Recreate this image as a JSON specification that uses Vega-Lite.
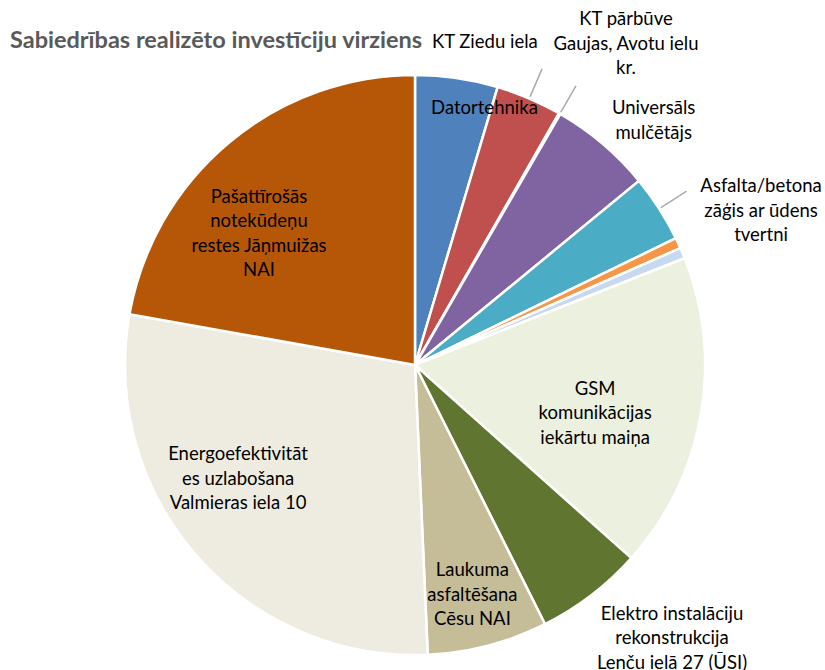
{
  "$schema": "https://vega.github.io/schema/vega-lite/v6.json",
  "autosize": "none",
  "width": 820,
  "height": 610,
  "padding": {"left": 5, "top": 60, "right": 0, "bottom": 0},
  "background": "white",
  "title": {
    "text": "Sabiedrības realizēto investīciju virziens",
    "anchor": "start",
    "frame": "group",
    "dx": 5,
    "offset": -42,
    "font": "Lato",
    "fontSize": 23.5,
    "fontWeight": "bold",
    "color": "#595959"
  },
  "data": {
    "values": [
      {"name": "Datortehnika", "value": 4.6},
      {"name": "KT Ziedu iela", "value": 3.67},
      {"name": "KT pārbūve\nGaujas, Avotu ielu\nkr.", "value": 0.08},
      {"name": "Universāls\nmulčētājs", "value": 5.7},
      {"name": "Asfalta/betona\nzāģis ar ūdens\ntvertni", "value": 3.75},
      {"name": "Cits 1", "value": 0.6},
      {"name": "Cits 2", "value": 0.6},
      {"name": "GSM\nkomunikācijas\niekārtu maiņa", "value": 17.6},
      {"name": "Elektro instalāciju\nrekonstrukcija\nLenču ielā 27 (ŪSI)", "value": 6.0},
      {"name": "Laukuma\nasfaltēšana\nCēsu NAI", "value": 6.7},
      {"name": "Energoefektivitāt\nes uzlabošana\nValmieras iela 10", "value": 28.5},
      {"name": "Pašattīrošās\nnotekūdeņu\nrestes Jāņmuižas\nNAI", "value": 22.2}
    ]
  },
  "transform": [
    {"window": [{"op": "sum", "field": "value", "as": "v1"}, {"op": "row_number", "as": "idx"}], "frame": [null, 0]},
    {"calculate": "datum.v1 - datum.value", "as": "v0"},
    {"calculate": "datum.v1 - datum.value / 2", "as": "mid"},
    {"calculate": "datum.mid + 0.03", "as": "midB"}
  ],
  "config": {
    "view": {"stroke": null},
    "text": {"font": "Lato", "fontSize": 18.5, "lineBreak": "\n", "lineHeight": 24.5, "color": "#000000"}
  },
  "layer": [
    {
      "mark": {"type": "arc", "outerRadius": 290, "stroke": "white", "strokeWidth": 2.5},
      "encoding": {
        "theta": {"field": "v0", "type": "quantitative", "stack": null, "scale": {"domain": [0, 100]}},
        "theta2": {"field": "v1"},
        "color": {
          "field": "name",
          "type": "nominal",
          "sort": null,
          "legend": null,
          "scale": {
            "domain": ["Datortehnika", "KT Ziedu iela", "KT pārbūve\nGaujas, Avotu ielu\nkr.", "Universāls\nmulčētājs", "Asfalta/betona\nzāģis ar ūdens\ntvertni", "Cits 1", "Cits 2", "GSM\nkomunikācijas\niekārtu maiņa", "Elektro instalāciju\nrekonstrukcija\nLenču ielā 27 (ŪSI)", "Laukuma\nasfaltēšana\nCēsu NAI", "Energoefektivitāt\nes uzlabošana\nValmieras iela 10", "Pašattīrošās\nnotekūdeņu\nrestes Jāņmuižas\nNAI"],
            "range": ["#4F81BD", "#C0504D", "#9BBB59", "#8064A2", "#4BACC6", "#F79646", "#C6D9F1", "#EBF1DE", "#5F7530", "#C4BD97", "#EEECE1", "#B65708"]
          }
        }
      }
    },
    {
      "transform": [{"filter": "datum.idx == 2 || datum.idx == 3 || datum.idx == 5"}],
      "mark": {"type": "arc", "radius": 322, "radius2": 292, "filled": false, "stroke": "#A6A6A6", "strokeWidth": 1},
      "encoding": {
        "theta": {"field": "mid", "type": "quantitative", "stack": null},
        "theta2": {"field": "midB"}
      }
    },
    {
      "transform": [{"filter": "datum.idx == 1"}],
      "mark": {"type": "text", "radius": 267, "dx": 31, "dy": 7},
      "encoding": {"theta": {"field": "mid", "type": "quantitative", "stack": null}, "text": {"field": "name"}}
    },
    {
      "transform": [{"filter": "datum.idx == 2"}],
      "mark": {"type": "text", "radius": 330, "dx": -60, "dy": -20},
      "encoding": {"theta": {"field": "mid", "type": "quantitative", "stack": null}, "text": {"field": "name"}}
    },
    {
      "transform": [{"filter": "datum.idx == 3"}],
      "mark": {"type": "text", "radius": 385, "dx": 19, "dy": -12},
      "encoding": {"theta": {"field": "mid", "type": "quantitative", "stack": null}, "text": {"field": "name"}}
    },
    {
      "transform": [{"filter": "datum.idx == 4"}],
      "mark": {"type": "text", "radius": 341, "dx": 18, "dy": 3},
      "encoding": {"theta": {"field": "mid", "type": "quantitative", "stack": null}, "text": {"field": "name"}}
    },
    {
      "transform": [{"filter": "datum.idx == 5"}],
      "mark": {"type": "text", "radius": 379, "dx": 27, "dy": 26},
      "encoding": {"theta": {"field": "mid", "type": "quantitative", "stack": null}, "text": {"field": "name"}}
    },
    {
      "transform": [{"filter": "datum.idx == 8"}],
      "mark": {"type": "text", "radius": 186, "dx": -3, "dy": -9},
      "encoding": {"theta": {"field": "mid", "type": "quantitative", "stack": null}, "text": {"field": "name"}}
    },
    {
      "transform": [{"filter": "datum.idx == 9"}],
      "mark": {"type": "text", "radius": 375, "dx": 29, "dy": -49},
      "encoding": {"theta": {"field": "mid", "type": "quantitative", "stack": null}, "text": {"field": "name"}}
    },
    {
      "transform": [{"filter": "datum.idx == 10"}],
      "mark": {"type": "text", "radius": 236, "dx": -2, "dy": -23},
      "encoding": {"theta": {"field": "mid", "type": "quantitative", "stack": null}, "text": {"field": "name"}}
    },
    {
      "transform": [{"filter": "datum.idx == 11"}],
      "mark": {"type": "text", "radius": 210, "dx": -19, "dy": -49},
      "encoding": {"theta": {"field": "mid", "type": "quantitative", "stack": null}, "text": {"field": "name"}}
    },
    {
      "transform": [{"filter": "datum.idx == 12"}],
      "mark": {"type": "text", "radius": 204, "dx": -25, "dy": -12},
      "encoding": {"theta": {"field": "mid", "type": "quantitative", "stack": null}, "text": {"field": "name"}}
    }
  ]
}
